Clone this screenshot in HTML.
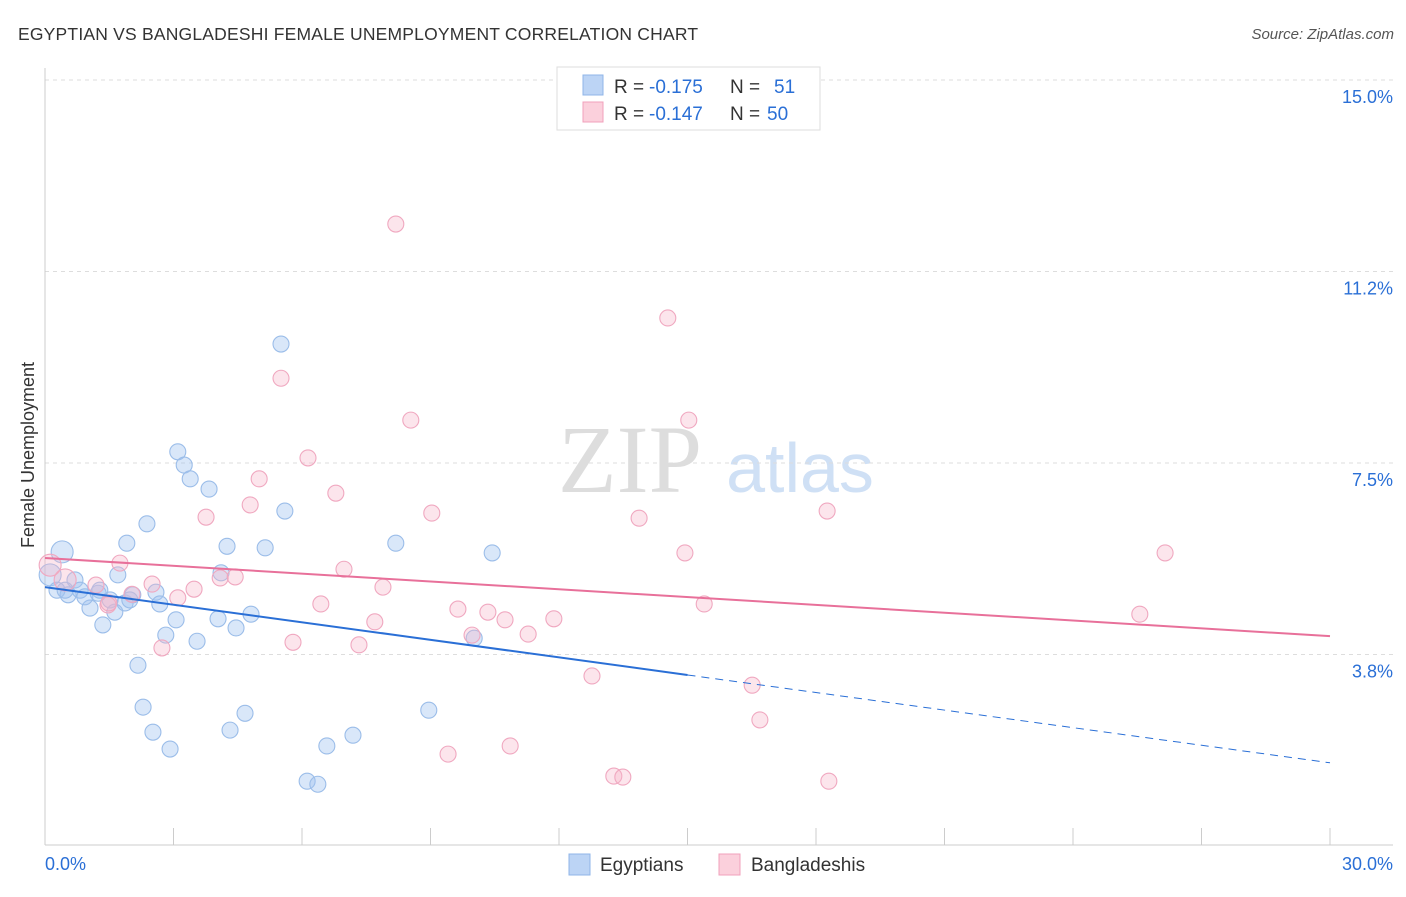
<!DOCTYPE html>
<html><head><meta charset="utf-8"><style>
body{margin:0;background:#fff;font-family:"Liberation Sans",sans-serif}
#c{position:relative;width:1406px;height:892px}
</style></head><body>
<div id="c">
<svg id="s" width="1406" height="892" xmlns="http://www.w3.org/2000/svg">
<text x="18" y="40" font-size="17.5" fill="#333" letter-spacing="0.2">EGYPTIAN VS BANGLADESHI FEMALE UNEMPLOYMENT CORRELATION CHART</text>
<text x="1394" y="39" font-size="15" fill="#555" font-style="italic" text-anchor="end">Source: ZipAtlas.com</text>
<text x="630" y="492" font-size="96" fill="#ddd" font-family="Liberation Serif" text-anchor="middle">ZIP</text>
<text x="800" y="492" font-size="70" fill="#cfe0f5" text-anchor="middle">atlas</text>
<text transform="translate(34,455) rotate(-90)" font-size="18" fill="#333" text-anchor="middle">Female Unemployment</text>
<g id="grid"></g><g id="marks"></g>
<g>
<rect x="557" y="67" width="263" height="63" fill="#fff" stroke="#ddd"/>
<rect x="583" y="75" width="20" height="20" fill="#bcd4f5" stroke="#8fb5e8"/>
<rect x="583" y="102" width="20" height="20" fill="#fbd0dc" stroke="#f0a0bb"/>
<text x="614" y="93" font-size="19" fill="#333">R =</text>
<text x="649" y="93" font-size="19" fill="#2a6fd6">-0.175</text>
<text x="730" y="93" font-size="19" fill="#333">N =</text>
<text x="774" y="93" font-size="19" fill="#2a6fd6">51</text>
<text x="614" y="120" font-size="19" fill="#333">R =</text>
<text x="649" y="120" font-size="19" fill="#2a6fd6">-0.147</text>
<text x="730" y="120" font-size="19" fill="#333">N =</text>
<text x="767" y="120" font-size="19" fill="#2a6fd6">50</text>
</g>
<g>
<rect x="569" y="854" width="21" height="21" fill="#bcd4f5" stroke="#8fb5e8"/>
<text x="600" y="871" font-size="19" fill="#333">Egyptians</text>
<rect x="719" y="854" width="21" height="21" fill="#fbd0dc" stroke="#f0a0bb"/>
<text x="751" y="871" font-size="19" fill="#333">Bangladeshis</text>
</g>
</svg></div>
<script>
const yTicks=[15,11.25,7.5,3.75];
const yTickLabels=["15.0%","11.2%","7.5%","3.8%"];
const xTickVals=[0,3,6,9,12,15,18,21,24,27,30];
const egyX=[0.40,0.12,0.28,0.70,0.54,0.82,1.05,1.24,1.35,1.52,1.63,1.70,1.87,1.91,2.05,2.17,2.29,2.38,2.52,2.59,2.68,2.82,2.92,3.06,3.10,3.25,3.39,3.55,3.83,4.04,4.11,4.25,4.32,4.46,4.67,4.81,5.14,5.51,5.60,6.12,6.37,6.58,7.19,8.19,8.96,10.02,10.44,1.28,0.47,0.93,1.98];
const egyY=[5.76,5.31,5.01,5.21,4.92,5.01,4.66,4.95,4.33,4.82,4.58,5.31,4.76,5.93,4.92,3.54,2.72,6.31,2.23,4.97,4.74,4.13,1.90,4.43,7.72,7.46,7.19,4.01,6.99,4.45,5.35,5.87,2.27,4.27,2.60,4.54,5.84,9.83,6.56,1.27,1.21,1.96,2.17,5.93,2.66,4.07,5.74,5.01,5.01,4.88,4.82];
const banX=[0.12,0.47,1.19,1.47,1.75,2.03,2.50,2.73,3.10,3.48,3.76,4.09,4.44,4.79,5.00,5.51,5.79,6.14,6.44,6.79,6.98,7.33,7.70,7.89,8.19,8.54,9.03,9.41,9.64,9.97,10.34,10.74,10.86,11.28,11.88,12.77,13.28,13.49,13.87,14.54,14.94,15.03,15.39,16.51,16.69,18.26,18.30,25.56,26.15,1.49];
const banY=[5.50,5.21,5.11,4.72,5.54,4.93,5.13,3.88,4.86,5.03,6.44,5.25,5.27,6.68,7.19,9.16,3.99,7.60,4.74,6.91,5.42,3.94,4.39,5.07,12.18,8.34,6.52,1.80,4.64,4.13,4.58,4.43,1.96,4.15,4.45,3.33,1.37,1.35,6.42,10.34,5.74,8.34,4.74,3.15,2.47,6.56,1.27,4.54,5.74,4.76];
const egyTrend=[5.07,1.63];
const banTrend=[5.64,4.11];
const NS="http://www.w3.org/2000/svg";
const X=v=>45+v/30*1285, Y=v=>80+(15-v)*51.07;
function mk(t,a,p){const e=document.createElementNS(NS,t);for(const k in a)e.setAttribute(k,a[k]);p.appendChild(e);return e;}
const g=document.getElementById('grid'),m=document.getElementById('marks');
yTicks.forEach((v,i)=>{const l=mk('line',{x1:45,x2:1393,y1:Y(v),y2:Y(v),stroke:'#ddd','stroke-dasharray':'4,4'},g);


const t=mk('text',{x:1393,y:Y(v)+23,'font-size':18,fill:'#2a6fd6','text-anchor':'end'},g);t.textContent=yTickLabels[i];

});
const ax=mk('line',{x1:45,x2:1393,y1:845,y2:845,stroke:'#ccc'},g);


const ay=mk('line',{x1:45,x2:45,y1:68,y2:845,stroke:'#ccc'},g);


xTickVals.forEach(v=>{const l=mk('line',{x1:X(v),x2:X(v),y1:828,y2:845,stroke:'#ccc'},g);

});
const xl0=mk('text',{x:45,y:870,'font-size':18,fill:'#2a6fd6'},g);xl0.textContent="0.0%";


const xl1=mk('text',{x:1393,y:870,'font-size':18,fill:'#2a6fd6','text-anchor':'end'},g);xl1.textContent="30.0%";


function pts(xs,ys,fill,stroke,name){xs.forEach((x,i)=>{const big=i<2&&x<0.5;const c=mk('circle',{cx:X(x),cy:Y(ys[i]),r:big?11:8,fill:fill,stroke:stroke,'stroke-width':1.1},m);

});}
pts(egyX,egyY,'rgba(160,195,240,0.4)','#9bbde9','egyptian-point');
pts(banX,banY,'rgba(245,180,200,0.35)','#f0a8c0','bangladeshi-point');
const ty=v=>egyTrend[0]+(egyTrend[1]-egyTrend[0])*v/30;
const l1=mk('line',{x1:X(0),y1:Y(ty(0)),x2:X(15),y2:Y(ty(15)),stroke:'#2a6fd6','stroke-width':2},m);


const l2=mk('line',{x1:X(15),y1:Y(ty(15)),x2:X(30),y2:Y(ty(30)),stroke:'#2a6fd6','stroke-width':1,'stroke-dasharray':'8,6'},m);


const l3=mk('line',{x1:X(0),y1:Y(banTrend[0]),x2:X(30),y2:Y(banTrend[1]),stroke:'#e8709a','stroke-width':2},m);


</script>
</body></html>
